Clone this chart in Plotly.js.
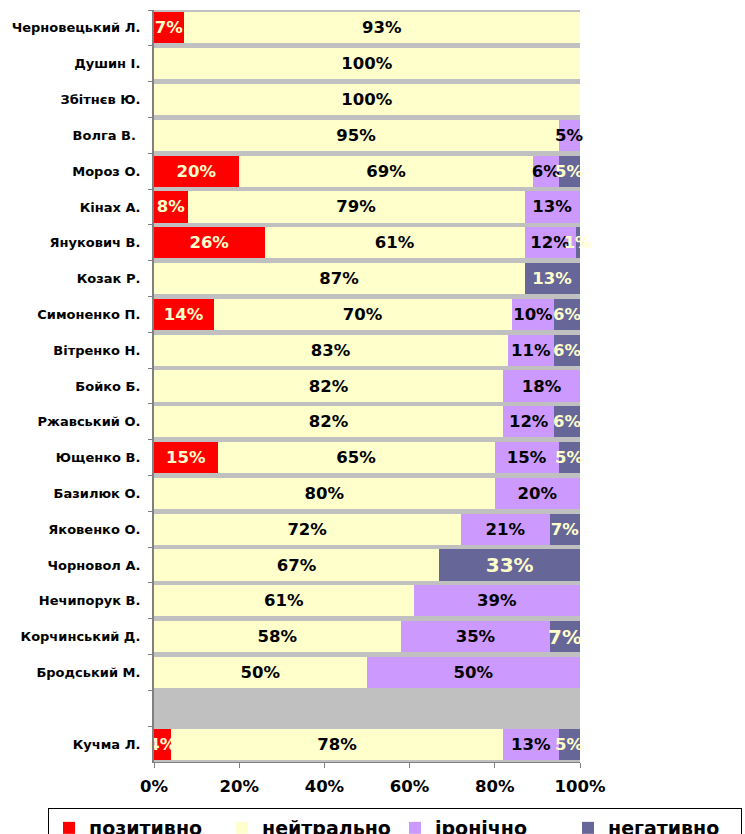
<!DOCTYPE html>
<html>
<head>
<meta charset="utf-8">
<script src="https://cdn.plot.ly/plotly-3.0.1.min.js"></script>
<style>
  body { margin: 0; background: #fff; }
  #chart { width: 745px; height: 834px; }
</style>
</head>
<body>
<div id="chart"></div>
<script>
const people = [
    'Черновецький Л.', 'Душин І.', 'Збітнєв Ю.', 'Волга В. ', 'Мороз О.',
    'Кінах А.', 'Янукович В.', 'Козак Р.', 'Симоненко П.', 'Вітренко Н.',
    'Бойко Б.', 'Ржавський О.', 'Ющенко В.', 'Базилюк О.', 'Яковенко О.',
    'Чорновол А.', 'Нечипорук В.', 'Корчинський Д.', 'Бродський М.', ' ',
    'Кучма Л.'
];

const positive = [7, 0, 0, 0, 20, 8, 26, 0, 14, 0, 0, 0, 15, 0, 0, 0, 0, 0, 0, 0, 4];
const neutral  = [93, 100, 100, 95, 69, 79, 61, 87, 70, 83, 82, 82, 65, 80, 72, 67, 61, 58, 50, 0, 78];
const ironic   = [0, 0, 0, 5, 6, 13, 12, 0, 10, 11, 18, 12, 15, 20, 21, 0, 39, 35, 50, 0, 13];
const negative = [0, 0, 0, 0, 5, 0, 1, 13, 6, 6, 0, 6, 5, 0, 7, 33, 0, 7, 0, 0, 5];

const seriesNames = ['позитивно', 'нейтрально', 'іронічно', 'негативно'];
const seriesColors = ['#FF0000', '#FFFFCC', '#CC99FF', '#666699'];
const labelColors = ['#FFFFCC', '#000000', '#000000', '#FFFFCC'];

const font = 'DejaVu Sans, Verdana, sans-serif';
const W = 745, H = 834;

const data = [positive, neutral, ironic, negative].map((vals, i) => ({
    type: 'bar',
    orientation: 'h',
    name: seriesNames[i],
    y: people,
    x: vals,
    text: vals.map(v => v > 0 ? v + '%' : ''),
    textposition: 'inside',
    insidetextanchor: 'middle',
    constraintext: 'none',
    textangle: 0,
    cliponaxis: false,
    insidetextfont: {
        family: font, weight: 'bold', color: labelColors[i],
        size: vals.map((v, j) => (i === 3 && (j === 15 || j === 17)) ? 20 : 16.5)
    },
    marker: {color: seriesColors[i], line: {width: 0}},
    hoverinfo: 'x+y+name'
}));

// plot area spans x 154..580, y 10..762 px; margins are zero so the
// legend can use the full page width
const layout = {
    width: W,
    height: H,
    barmode: 'stack',
    bargap: 0.13,
    margin: {l: 0, r: 0, t: 0, b: 0, autoexpand: false},
    paper_bgcolor: '#FFFFFF',
    plot_bgcolor: '#FFFFFF',
    font: {family: font, weight: 'bold', color: '#000'},
    shapes: [{
        type: 'rect', xref: 'x domain', yref: 'y domain', layer: 'below',
        x0: 0, x1: 1, y0: 0, y1: 1,
        fillcolor: '#C0C0C0', line: {width: 0}
    }],
    xaxis: {
        domain: [154 / W, 580 / W],
        range: [0, 100],
        dtick: 20,
        ticksuffix: '%',
        showgrid: false,
        zeroline: false,
        showline: true,
        linecolor: '#808080',
        linewidth: 1,
        ticks: 'outside',
        ticklen: 5,
        tickcolor: '#808080',
        ticklabelstandoff: 4,
        tickfont: {family: font, weight: 'bold', size: 16.5, color: '#000'},
        fixedrange: true
    },
    yaxis: {
        domain: [(H - 762) / H, (H - 10) / H],
        type: 'category',
        autorange: 'reversed',
        showgrid: false,
        showline: true,
        linecolor: '#808080',
        linewidth: 2,
        ticks: 'outside',
        tickson: 'boundaries',
        ticklen: 4,
        tickcolor: '#808080',
        ticklabelstandoff: 9,
        tickfont: {family: font, weight: 'bold', size: 13, color: '#000'},
        fixedrange: true
    },
    showlegend: true,
    legend: {
        orientation: 'h',
        x: 48 / W,
        xanchor: 'left',
        y: (H - 808) / H,
        yanchor: 'top',
        bgcolor: '#FFFFFF',
        bordercolor: '#000000',
        borderwidth: 1,
        traceorder: 'normal',
        entrywidth: 128,
        entrywidthmode: 'pixels',
        font: {family: font, weight: 'bold', size: 19, color: '#000'}
    }
};

Plotly.newPlot('chart', data, layout, {displayModeBar: false, staticPlot: true});
</script>
</body>
</html>
